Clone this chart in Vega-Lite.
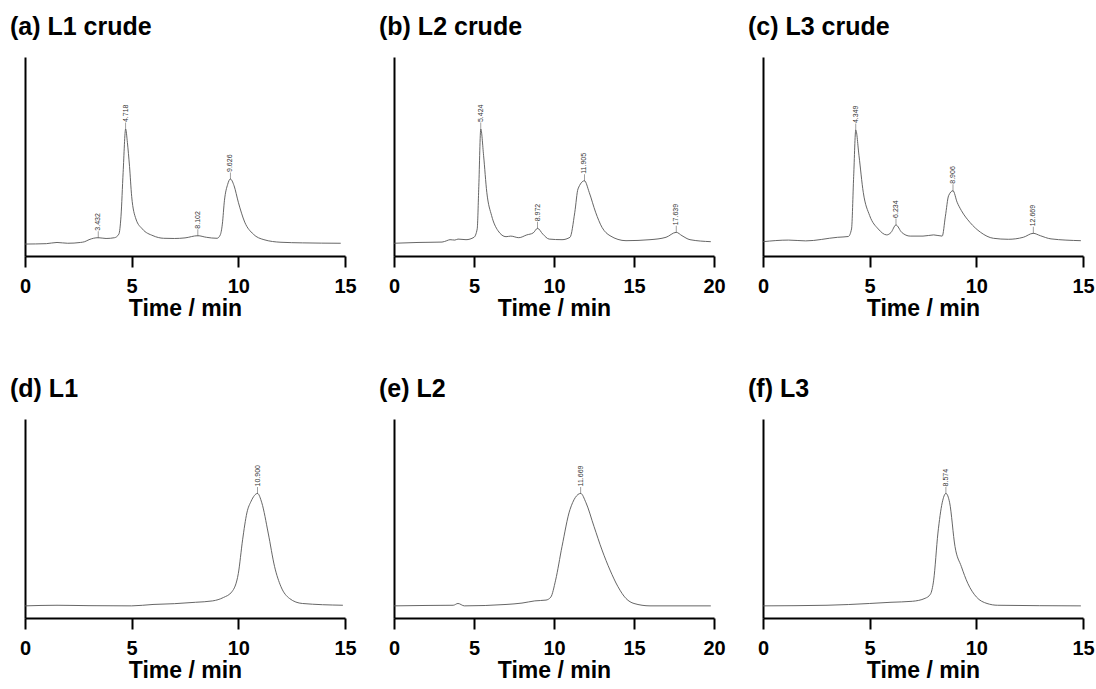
{
"$schema":"https://vega.github.io/schema/vega-lite/v6.json",
"padding":{"left":10,"top":15,"right":5,"bottom":5},
"background":"white",
"datasets":{
"curves":[
{"panel":"a","t":0,"v":6.0},{"panel":"a","t":1.0,"v":6.2},{"panel":"a","t":1.5,"v":6.8},{"panel":"a","t":2.0,"v":6.4},{"panel":"a","t":2.6,"v":6.8},{"panel":"a","t":2.8,"v":7.2},{"panel":"a","t":3.0,"v":8.2},{"panel":"a","t":3.432,"v":9.2},{"panel":"a","t":3.8,"v":8.8},{"panel":"a","t":4.2,"v":9.2},{"panel":"a","t":4.4,"v":11},{"panel":"a","t":4.5,"v":20},{"panel":"a","t":4.6,"v":42},{"panel":"a","t":4.718,"v":63.8},{"panel":"a","t":4.8,"v":57},{"panel":"a","t":4.9,"v":45},{"panel":"a","t":5.0,"v":30},{"panel":"a","t":5.2,"v":18.6},{"panel":"a","t":5.5,"v":13.6},{"panel":"a","t":6.0,"v":10.2},{"panel":"a","t":6.5,"v":8.9},{"panel":"a","t":7.0,"v":8.8},{"panel":"a","t":7.5,"v":9.1},{"panel":"a","t":8.102,"v":10.2},{"panel":"a","t":8.5,"v":9.4},{"panel":"a","t":9.0,"v":8.9},{"panel":"a","t":9.15,"v":10.5},{"panel":"a","t":9.25,"v":16},{"panel":"a","t":9.35,"v":28},{"panel":"a","t":9.5,"v":36},{"panel":"a","t":9.626,"v":38.7},{"panel":"a","t":9.8,"v":35.3},{"panel":"a","t":10.0,"v":27},{"panel":"a","t":10.3,"v":17},{"panel":"a","t":10.7,"v":11},{"panel":"a","t":11.2,"v":8.2},{"panel":"a","t":12,"v":6.9},{"panel":"a","t":13,"v":6.6},{"panel":"a","t":14.8,"v":6.4},
{"panel":"b","t":0,"v":6.4},{"panel":"b","t":1.5,"v":6.8},{"panel":"b","t":3.0,"v":7.0},{"panel":"b","t":3.3,"v":7.7},{"panel":"b","t":3.5,"v":8.2},{"panel":"b","t":3.8,"v":8.0},{"panel":"b","t":4.0,"v":8.5},{"panel":"b","t":4.5,"v":8.2},{"panel":"b","t":5.0,"v":9.4},{"panel":"b","t":5.2,"v":13.6},{"panel":"b","t":5.3,"v":35},{"panel":"b","t":5.424,"v":63.8},{"panel":"b","t":5.6,"v":50.4},{"panel":"b","t":5.8,"v":32},{"panel":"b","t":6.1,"v":20.3},{"panel":"b","t":6.5,"v":12.7},{"panel":"b","t":7.0,"v":9.7},{"panel":"b","t":7.3,"v":10.0},{"panel":"b","t":7.8,"v":9.2},{"panel":"b","t":8.3,"v":10.6},{"panel":"b","t":8.7,"v":11.6},{"panel":"b","t":8.972,"v":13.9},{"panel":"b","t":9.3,"v":11},{"panel":"b","t":9.7,"v":8.5},{"panel":"b","t":10.5,"v":8.2},{"panel":"b","t":11.0,"v":9.4},{"panel":"b","t":11.3,"v":22},{"panel":"b","t":11.5,"v":33.7},{"panel":"b","t":11.905,"v":37.8},{"panel":"b","t":12.2,"v":32},{"panel":"b","t":12.6,"v":22},{"panel":"b","t":13.0,"v":14.4},{"panel":"b","t":13.5,"v":10.2},{"panel":"b","t":14.5,"v":7.7},{"panel":"b","t":16,"v":8.2},{"panel":"b","t":17.0,"v":9.4},{"panel":"b","t":17.639,"v":11.9},{"panel":"b","t":18.0,"v":10.2},{"panel":"b","t":18.5,"v":8.2},{"panel":"b","t":19.8,"v":7.2},
{"panel":"c","t":0,"v":7.2},{"panel":"c","t":1.2,"v":8.0},{"panel":"c","t":2.0,"v":7.6},{"panel":"c","t":3.5,"v":9.4},{"panel":"c","t":4.0,"v":9.8},{"panel":"c","t":4.15,"v":13.6},{"panel":"c","t":4.25,"v":40},{"panel":"c","t":4.349,"v":63.3},{"panel":"c","t":4.5,"v":50.4},{"panel":"c","t":4.7,"v":32},{"panel":"c","t":5.0,"v":20.3},{"panel":"c","t":5.4,"v":13.6},{"panel":"c","t":5.8,"v":10.6},{"panel":"c","t":6.0,"v":11.8},{"panel":"c","t":6.234,"v":15.6},{"panel":"c","t":6.5,"v":11.9},{"panel":"c","t":6.9,"v":10.0},{"panel":"c","t":7.5,"v":10.0},{"panel":"c","t":8.0,"v":10.6},{"panel":"c","t":8.4,"v":10.0},{"panel":"c","t":8.55,"v":20},{"panel":"c","t":8.7,"v":30.3},{"panel":"c","t":8.906,"v":32.8},{"panel":"c","t":9.1,"v":27},{"panel":"c","t":9.3,"v":22.8},{"panel":"c","t":9.7,"v":16.9},{"panel":"c","t":10.2,"v":11.9},{"panel":"c","t":10.8,"v":8.9},{"panel":"c","t":11.5,"v":8.4},{"panel":"c","t":12.2,"v":9.4},{"panel":"c","t":12.669,"v":11.4},{"panel":"c","t":13.0,"v":10.2},{"panel":"c","t":13.5,"v":8.6},{"panel":"c","t":14.9,"v":7.7},
{"panel":"d","t":0,"v":6.1},{"panel":"d","t":1.5,"v":6.4},{"panel":"d","t":3,"v":6.2},{"panel":"d","t":5,"v":6.1},{"panel":"d","t":6,"v":6.8},{"panel":"d","t":7,"v":7.2},{"panel":"d","t":8,"v":7.9},{"panel":"d","t":8.8,"v":8.6},{"panel":"d","t":9.3,"v":10.3},{"panel":"d","t":9.7,"v":13.2},{"panel":"d","t":10.0,"v":22.4},{"panel":"d","t":10.2,"v":39.3},{"panel":"d","t":10.4,"v":52.8},{"panel":"d","t":10.6,"v":58.7},{"panel":"d","t":10.9,"v":62.6},{"panel":"d","t":11.1,"v":57.9},{"panel":"d","t":11.4,"v":42.7},{"panel":"d","t":11.7,"v":25.8},{"panel":"d","t":12.0,"v":15.7},{"panel":"d","t":12.4,"v":9.8},{"panel":"d","t":13.0,"v":7.3},{"panel":"d","t":14.9,"v":6.4},
{"panel":"e","t":0,"v":6.1},{"panel":"e","t":2,"v":6.3},{"panel":"e","t":3.7,"v":6.4},{"panel":"e","t":4.0,"v":7.3},{"panel":"e","t":4.4,"v":6.1},{"panel":"e","t":7,"v":6.8},{"panel":"e","t":8,"v":7.5},{"panel":"e","t":8.8,"v":8.6},{"panel":"e","t":9.5,"v":9.0},{"panel":"e","t":9.8,"v":10.5},{"panel":"e","t":10.1,"v":19},{"panel":"e","t":10.5,"v":35.9},{"panel":"e","t":11.0,"v":54.5},{"panel":"e","t":11.669,"v":62.6},{"panel":"e","t":12.0,"v":57.9},{"panel":"e","t":12.5,"v":46},{"panel":"e","t":13.0,"v":34.2},{"panel":"e","t":13.5,"v":24.1},{"panel":"e","t":14.0,"v":15.7},{"panel":"e","t":14.5,"v":9.8},{"panel":"e","t":15.0,"v":7.3},{"panel":"e","t":16,"v":6.1},{"panel":"e","t":19.8,"v":6.1},
{"panel":"f","t":0,"v":6.1},{"panel":"f","t":3,"v":6.4},{"panel":"f","t":5,"v":7.3},{"panel":"f","t":6,"v":7.9},{"panel":"f","t":7,"v":8.4},{"panel":"f","t":7.6,"v":9.9},{"panel":"f","t":7.85,"v":12},{"panel":"f","t":8.0,"v":19},{"panel":"f","t":8.2,"v":42.7},{"panel":"f","t":8.4,"v":57.9},{"panel":"f","t":8.574,"v":62.6},{"panel":"f","t":8.75,"v":57.9},{"panel":"f","t":9.0,"v":35.9},{"panel":"f","t":9.3,"v":25.8},{"panel":"f","t":9.6,"v":17.4},{"panel":"f","t":10.0,"v":10.6},{"panel":"f","t":10.5,"v":7.3},{"panel":"f","t":11.0,"v":6.4},{"panel":"f","t":14.9,"v":6.1}
],
"peaks":[
{"panel":"a","t":3.432,"v":9.2,"label":"3.432"},{"panel":"a","t":4.718,"v":63.8,"label":"4.718"},{"panel":"a","t":8.102,"v":10.2,"label":"8.102"},{"panel":"a","t":9.626,"v":38.7,"label":"9.626"},
{"panel":"b","t":5.424,"v":63.8,"label":"5.424"},{"panel":"b","t":8.972,"v":13.9,"label":"8.972"},{"panel":"b","t":11.905,"v":37.8,"label":"11.905"},{"panel":"b","t":17.639,"v":11.9,"label":"17.639"},
{"panel":"c","t":4.349,"v":63.3,"label":"4.349"},{"panel":"c","t":6.234,"v":15.6,"label":"6.234"},{"panel":"c","t":8.906,"v":32.8,"label":"8.906"},{"panel":"c","t":12.669,"v":11.4,"label":"12.669"},
{"panel":"d","t":10.9,"v":62.6,"label":"10.900"},
{"panel":"e","t":11.669,"v":62.6,"label":"11.669"},
{"panel":"f","t":8.574,"v":62.6,"label":"8.574"}
]
},
"columns":3,
"spacing":{"row":163,"column":49},
"bounds":"flush",
"concat":[
{"width":320,"height":199,"title":"(a) L1 crude","layer":[
{"data":{"name":"curves"},"transform":[{"filter":"datum.panel==='a'"}],"mark":{"type":"line","color":"#555","strokeWidth":0.9,"interpolate":"monotone"},
"encoding":{"x":{"field":"t","type":"quantitative","scale":{"domain":[0,15],"nice":false},"axis":{"values":[0,5,10,15],"title":"Time / min"}},"y":{"field":"v","type":"quantitative","scale":{"domain":[0,100],"nice":false},"axis":{"title":null,"ticks":false,"labels":false,"grid":false}}}},
{"data":{"name":"peaks"},"transform":[{"filter":"datum.panel==='a'"}],"mark":{"type":"tick","orient":"vertical","size":7,"thickness":0.8,"color":"#555","yOffset":-3},"encoding":{"x":{"field":"t","type":"quantitative"},"y":{"field":"v","type":"quantitative"}}},
{"data":{"name":"peaks"},"transform":[{"filter":"datum.panel==='a'"}],"mark":{"type":"text","angle":270,"align":"left","baseline":"middle","dx":7,"fontSize":7,"font":"Liberation Sans","color":"#333"},"encoding":{"x":{"field":"t","type":"quantitative"},"y":{"field":"v","type":"quantitative"},"text":{"field":"label"}}}
]},
{"width":320,"height":199,"title":"(b) L2 crude","layer":[
{"data":{"name":"curves"},"transform":[{"filter":"datum.panel==='b'"}],"mark":{"type":"line","color":"#555","strokeWidth":0.9,"interpolate":"monotone"},
"encoding":{"x":{"field":"t","type":"quantitative","scale":{"domain":[0,20],"nice":false},"axis":{"values":[0,5,10,15,20],"title":"Time / min"}},"y":{"field":"v","type":"quantitative","scale":{"domain":[0,100],"nice":false},"axis":{"title":null,"ticks":false,"labels":false,"grid":false}}}},
{"data":{"name":"peaks"},"transform":[{"filter":"datum.panel==='b'"}],"mark":{"type":"tick","orient":"vertical","size":7,"thickness":0.8,"color":"#555","yOffset":-3},"encoding":{"x":{"field":"t","type":"quantitative"},"y":{"field":"v","type":"quantitative"}}},
{"data":{"name":"peaks"},"transform":[{"filter":"datum.panel==='b'"}],"mark":{"type":"text","angle":270,"align":"left","baseline":"middle","dx":7,"fontSize":7,"font":"Liberation Sans","color":"#333"},"encoding":{"x":{"field":"t","type":"quantitative"},"y":{"field":"v","type":"quantitative"},"text":{"field":"label"}}}
]},
{"width":320,"height":199,"title":"(c) L3 crude","layer":[
{"data":{"name":"curves"},"transform":[{"filter":"datum.panel==='c'"}],"mark":{"type":"line","color":"#555","strokeWidth":0.9,"interpolate":"monotone"},
"encoding":{"x":{"field":"t","type":"quantitative","scale":{"domain":[0,15],"nice":false},"axis":{"values":[0,5,10,15],"title":"Time / min"}},"y":{"field":"v","type":"quantitative","scale":{"domain":[0,100],"nice":false},"axis":{"title":null,"ticks":false,"labels":false,"grid":false}}}},
{"data":{"name":"peaks"},"transform":[{"filter":"datum.panel==='c'"}],"mark":{"type":"tick","orient":"vertical","size":7,"thickness":0.8,"color":"#555","yOffset":-3},"encoding":{"x":{"field":"t","type":"quantitative"},"y":{"field":"v","type":"quantitative"}}},
{"data":{"name":"peaks"},"transform":[{"filter":"datum.panel==='c'"}],"mark":{"type":"text","angle":270,"align":"left","baseline":"middle","dx":7,"fontSize":7,"font":"Liberation Sans","color":"#333"},"encoding":{"x":{"field":"t","type":"quantitative"},"y":{"field":"v","type":"quantitative"},"text":{"field":"label"}}}
]},
{"width":320,"height":199,"title":"(d) L1","layer":[
{"data":{"name":"curves"},"transform":[{"filter":"datum.panel==='d'"}],"mark":{"type":"line","color":"#555","strokeWidth":0.9,"interpolate":"monotone"},
"encoding":{"x":{"field":"t","type":"quantitative","scale":{"domain":[0,15],"nice":false},"axis":{"values":[0,5,10,15],"title":"Time / min"}},"y":{"field":"v","type":"quantitative","scale":{"domain":[0,100],"nice":false},"axis":{"title":null,"ticks":false,"labels":false,"grid":false}}}},
{"data":{"name":"peaks"},"transform":[{"filter":"datum.panel==='d'"}],"mark":{"type":"tick","orient":"vertical","size":7,"thickness":0.8,"color":"#555","yOffset":-3},"encoding":{"x":{"field":"t","type":"quantitative"},"y":{"field":"v","type":"quantitative"}}},
{"data":{"name":"peaks"},"transform":[{"filter":"datum.panel==='d'"}],"mark":{"type":"text","angle":270,"align":"left","baseline":"middle","dx":7,"fontSize":7,"font":"Liberation Sans","color":"#333"},"encoding":{"x":{"field":"t","type":"quantitative"},"y":{"field":"v","type":"quantitative"},"text":{"field":"label"}}}
]},
{"width":320,"height":199,"title":"(e) L2","layer":[
{"data":{"name":"curves"},"transform":[{"filter":"datum.panel==='e'"}],"mark":{"type":"line","color":"#555","strokeWidth":0.9,"interpolate":"monotone"},
"encoding":{"x":{"field":"t","type":"quantitative","scale":{"domain":[0,20],"nice":false},"axis":{"values":[0,5,10,15,20],"title":"Time / min"}},"y":{"field":"v","type":"quantitative","scale":{"domain":[0,100],"nice":false},"axis":{"title":null,"ticks":false,"labels":false,"grid":false}}}},
{"data":{"name":"peaks"},"transform":[{"filter":"datum.panel==='e'"}],"mark":{"type":"tick","orient":"vertical","size":7,"thickness":0.8,"color":"#555","yOffset":-3},"encoding":{"x":{"field":"t","type":"quantitative"},"y":{"field":"v","type":"quantitative"}}},
{"data":{"name":"peaks"},"transform":[{"filter":"datum.panel==='e'"}],"mark":{"type":"text","angle":270,"align":"left","baseline":"middle","dx":7,"fontSize":7,"font":"Liberation Sans","color":"#333"},"encoding":{"x":{"field":"t","type":"quantitative"},"y":{"field":"v","type":"quantitative"},"text":{"field":"label"}}}
]},
{"width":320,"height":199,"title":"(f) L3","layer":[
{"data":{"name":"curves"},"transform":[{"filter":"datum.panel==='f'"}],"mark":{"type":"line","color":"#555","strokeWidth":0.9,"interpolate":"monotone"},
"encoding":{"x":{"field":"t","type":"quantitative","scale":{"domain":[0,15],"nice":false},"axis":{"values":[0,5,10,15],"title":"Time / min"}},"y":{"field":"v","type":"quantitative","scale":{"domain":[0,100],"nice":false},"axis":{"title":null,"ticks":false,"labels":false,"grid":false}}}},
{"data":{"name":"peaks"},"transform":[{"filter":"datum.panel==='f'"}],"mark":{"type":"tick","orient":"vertical","size":7,"thickness":0.8,"color":"#555","yOffset":-3},"encoding":{"x":{"field":"t","type":"quantitative"},"y":{"field":"v","type":"quantitative"}}},
{"data":{"name":"peaks"},"transform":[{"filter":"datum.panel==='f'"}],"mark":{"type":"text","angle":270,"align":"left","baseline":"middle","dx":7,"fontSize":7,"font":"Liberation Sans","color":"#333"},"encoding":{"x":{"field":"t","type":"quantitative"},"y":{"field":"v","type":"quantitative"},"text":{"field":"label"}}}
]}
],
"config":{
"view":{"stroke":null},
"title":{"font":"Liberation Sans","fontSize":25,"fontWeight":"bold","color":"black","anchor":"start","frame":"group","dx":-15,"baseline":"alphabetic","offset":17},
"axisX":{"domainColor":"black","domainWidth":2,"tickColor":"black","tickWidth":2,"tickSize":11,"labelFont":"Liberation Sans","labelFontSize":20,"labelFontWeight":"bold","labelColor":"black","labelPadding":9,"labelFlush":false,"titleFont":"Liberation Sans","titleFontSize":23,"titleFontWeight":"bold","titleColor":"black","titlePadding":1,"grid":false},
"axisY":{"domainColor":"black","domainWidth":2,"grid":false}
}
}
